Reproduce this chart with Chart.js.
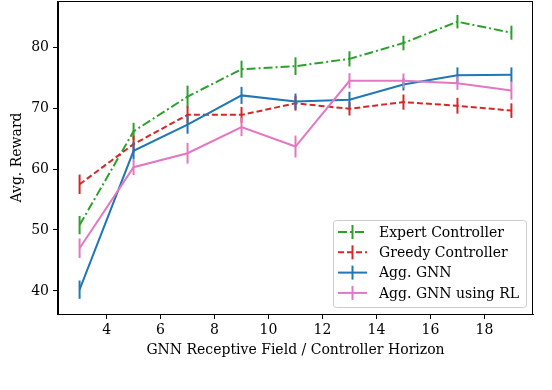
<!DOCTYPE html>
<html>
<head>
<meta charset="utf-8">
<script src="https://cdn.jsdelivr.net/npm/chart.js@4/dist/chart.umd.min.js"></script>
<style>
  html, body { margin: 0; padding: 0; background: #fff; }
  #wrap { width: 552px; height: 390px; }
</style>
</head>
<body>
<div id="wrap"><canvas id="line-chart"></canvas></div>
<script>
// x positions (receptive field / horizon)
var horizon = [3, 5, 7, 9, 11, 13, 15, 17, 19];
var xTicks = [4, 6, 8, 10, 12, 14, 16, 18];
var yTicks = [40, 50, 60, 70, 80];

// mean reward + error per series
var expert    = [50.8, 66.2, 71.9, 76.4, 76.9, 78.1, 80.7, 84.2, 82.4];
var expertErr = [1.5, 1.4, 1.8, 1.4, 1.45, 1.25, 1.2, 1.1, 1.15];
var greedy    = [57.5, 64.1, 68.9, 68.9, 70.8, 69.9, 71.0, 70.4, 69.6];
var greedyErr = [1.6, 1.4, 1.4, 1.3, 1.2, 1.1, 1.25, 1.3, 1.2];
var aggGnn    = [40.2, 63.0, 67.3, 72.1, 71.1, 71.4, 73.9, 75.4, 75.5];
var aggGnnErr = [1.5, 1.4, 1.5, 1.4, 1.3, 1.3, 1.0, 1.3, 1.2];
var aggRl     = [47.0, 60.3, 62.6, 66.9, 63.7, 74.5, 74.5, 74.1, 72.9];
var aggRlErr  = [1.6, 1.3, 1.7, 1.5, 1.8, 1.25, 1.2, 1.1, 1.5];

var FONT = "'DejaVu Serif', 'Liberation Serif', serif";
var FSIZE = 14;

function pts(ys) {
  var out = [];
  for (var i = 0; i < horizon.length; i++) out.push({x: horizon[i], y: ys[i]});
  return out;
}

var series = [
  {label: "Expert Controller", data: expert, err: expertErr, color: "#2ca02c", dash: [9, 3, 2, 3], order: 3},
  {label: "Greedy Controller", data: greedy, err: greedyErr, color: "#d62728", dash: [6, 3], order: 2},
  {label: "Agg. GNN", data: aggGnn, err: aggGnnErr, color: "#1f77b4", dash: [], order: 1},
  {label: "Agg. GNN using RL", data: aggRl, err: aggRlErr, color: "#e377c2", dash: [], order: 0}
];

// vertical error bars, drawn right after each dataset so layering matches
var errorBars = {
  id: "errorBars",
  afterDatasetDraw: function(chart, args) {
    var s = series[args.index];
    var ctx = chart.ctx;
    var ys = chart.scales.y;
    var xs = chart.scales.x;
    ctx.save();
    ctx.strokeStyle = s.color;
    ctx.lineWidth = 2;
    ctx.setLineDash([]);
    for (var i = 0; i < horizon.length; i++) {
      var px = xs.getPixelForValue(horizon[i]);
      ctx.beginPath();
      ctx.moveTo(px, ys.getPixelForValue(s.data[i] - s.err[i]));
      ctx.lineTo(px, ys.getPixelForValue(s.data[i] + s.err[i]));
      ctx.stroke();
    }
    ctx.restore();
  }
};

// full box round the axes + legend in lower right
var frameLegend = {
  id: "frameLegend",
  afterDraw: function(chart) {
    var ctx = chart.ctx;
    var a = chart.chartArea;
    ctx.save();
    ctx.strokeStyle = "#000";
    ctx.lineWidth = 1;
    ctx.strokeRect(Math.round(a.left) - 0.5, Math.round(a.top) + 0.5, Math.round(a.right - a.left), Math.round(a.bottom - a.top));

    // legend box
    var w = 193, h = 87;
    var bx = a.right - 7 - w, by = a.bottom - 7 - h;
    ctx.beginPath();
    if (ctx.roundRect) ctx.roundRect(bx + 0.5, by + 0.5, w, h, 3);
    else ctx.rect(bx + 0.5, by + 0.5, w, h);
    ctx.fillStyle = "rgba(255,255,255,0.8)";
    ctx.fill();
    ctx.strokeStyle = "#cccccc";
    ctx.stroke();

    ctx.font = FSIZE + "px " + FONT;
    ctx.textBaseline = "middle";
    for (var i = 0; i < series.length; i++) {
      var s = series[i];
      var cy = by + 12 + i * 20.3;
      ctx.strokeStyle = s.color;
      ctx.lineWidth = 2;
      ctx.setLineDash(s.dash);
      ctx.beginPath();
      ctx.moveTo(bx + 5, cy);
      ctx.lineTo(bx + 34, cy);
      ctx.stroke();
      ctx.setLineDash([]);
      ctx.beginPath();
      ctx.moveTo(bx + 19.5, cy - 7);
      ctx.lineTo(bx + 19.5, cy + 7);
      ctx.stroke();
      ctx.fillStyle = "#000";
      ctx.fillText(s.label, bx + 46, cy + 1);
    }
    ctx.restore();
  }
};

var datasets = series.map(function(s) {
  return {
    label: s.label,
    data: pts(s.data),
    borderColor: s.color,
    backgroundColor: s.color,
    borderWidth: 2,
    borderDash: s.dash,
    pointRadius: 0,
    fill: false,
    tension: 0,
    order: s.order
  };
});

new Chart(document.getElementById("line-chart"), {
  type: "line",
  data: {datasets: datasets},
  plugins: [errorBars, frameLegend],
  options: {
    responsive: true,
    maintainAspectRatio: false,
    animation: false,
    layout: {padding: {top: 1, right: 19, left: 0, bottom: 0}},
    plugins: {legend: {display: false}, tooltip: {enabled: false}},
    scales: {
      x: {
        type: "linear",
        min: 2.2,
        max: 19.8,
        afterBuildTicks: function(scale) {
          scale.ticks = xTicks.map(function(v) { return {value: v}; });
        },
        afterFit: function(scale) {
          scale.height = 76;
          scale.paddingLeft = 0;
          scale.paddingRight = 0;
        },
        grid: {drawOnChartArea: false, drawTicks: true, tickLength: 5, color: "#000", tickColor: "#000"},
        border: {display: true, color: "#000", width: 1},
        ticks: {color: "#000", padding: 3, font: {family: FONT, size: FSIZE}, maxRotation: 0},
        title: {display: true, text: "GNN Receptive Field / Controller Horizon", color: "#000",
                font: {family: FONT, size: FSIZE}, padding: {top: 4, bottom: 31}}
      },
      y: {
        min: 36.2,
        max: 87.6,
        afterBuildTicks: function(scale) {
          scale.ticks = yTicks.map(function(v) { return {value: v}; });
        },
        afterFit: function(scale) {
          scale.width = 58;
          scale.paddingTop = 0;
          scale.paddingBottom = 0;
        },
        grid: {drawOnChartArea: false, drawTicks: true, tickLength: 5, color: "#000", tickColor: "#000"},
        border: {display: true, color: "#000", width: 1},
        ticks: {color: "#000", padding: 4, font: {family: FONT, size: FSIZE}},
        title: {display: true, text: "Avg. Reward", color: "#000",
                font: {family: FONT, size: FSIZE}, padding: {top: 9, bottom: 0}}
      }
    }
  }
});
</script>
</body>
</html>
